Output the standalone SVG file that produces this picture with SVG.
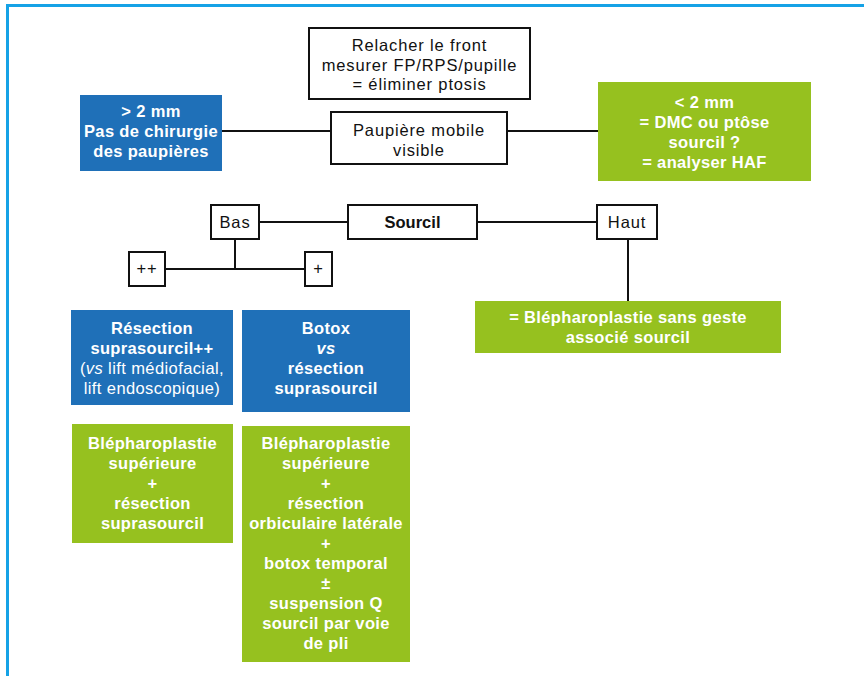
<svg xmlns="http://www.w3.org/2000/svg" width="864" height="676" viewBox="0 0 864 676">
<style>
.frame{fill:none;stroke:#15a2e6;stroke-width:3}
.ob{fill:#fff;stroke:#111;stroke-width:2}
.bl{fill:#1f70b8}
.gr{fill:#96c11f}
.con{stroke:#111;stroke-width:2;fill:none}
text{font-family:"Liberation Sans",Arial,sans-serif;text-anchor:middle}
.r{font-size:16.5px;fill:#111;letter-spacing:0.85px}
.rw{font-size:16.5px;fill:#fff;letter-spacing:0.4px}
.b{font-size:16.5px;font-weight:bold;fill:#fff;letter-spacing:0.35px}
.bk{font-size:16.5px;font-weight:bold;fill:#111}
</style>
<rect width="864" height="676" fill="#fff"/>
<path class="frame" d="M7.5,676 V5.5 H864"/>
<g id="connectors">
<line class="con" x1="222" y1="131" x2="331" y2="131"/>
<line class="con" x1="507" y1="131" x2="598" y2="131"/>
<line class="con" x1="259" y1="222" x2="348" y2="222"/>
<line class="con" x1="477" y1="222" x2="597" y2="222"/>
<line class="con" x1="235" y1="239" x2="235" y2="269"/>
<line class="con" x1="165" y1="269" x2="305" y2="269"/>
<line class="con" x1="628" y1="239" x2="628" y2="301"/>
</g>
<g id="relacher">
<rect class="ob" x="309" y="28" width="221" height="71"/>
<text class="r" x="419.5" y="51">Relacher le front</text>
<text class="r" x="419.5" y="70.5">mesurer FP/RPS/pupille</text>
<text class="r" x="419.5" y="90">= éliminer ptosis</text>
</g>
<g id="paupiere">
<rect class="ob" x="331" y="112" width="176" height="52"/>
<text class="r" x="419" y="136">Paupière mobile</text>
<text class="r" x="419" y="156">visible</text>
</g>
<g id="sup2">
<rect class="bl" x="80" y="95" width="142" height="76"/>
<text class="b" x="151" y="116.5">&gt; 2 mm</text>
<text class="b" x="151" y="136.5">Pas de chirurgie</text>
<text class="b" x="151" y="156.5">des paupières</text>
</g>
<g id="inf2">
<rect class="gr" x="598" y="82" width="213" height="99"/>
<text class="b" x="704.5" y="107.5">&lt; 2 mm</text>
<text class="b" x="704.5" y="127.5">= DMC ou ptôse</text>
<text class="b" x="704.5" y="148">sourcil ?</text>
<text class="b" x="704.5" y="168">= analyser HAF</text>
</g>
<g id="bas">
<rect class="ob" x="211" y="205" width="48" height="34"/>
<text class="r" x="235" y="227.5">Bas</text>
</g>
<g id="sourcil">
<rect class="ob" x="348" y="205" width="129" height="34"/>
<text class="bk" x="412.5" y="227.5">Sourcil</text>
</g>
<g id="haut">
<rect class="ob" x="597" y="205" width="60" height="34"/>
<text class="r" x="627" y="227.5">Haut</text>
</g>
<g id="plusplus">
<rect class="ob" x="129" y="252" width="36" height="34"/>
<text class="r" x="147" y="274">++</text>
</g>
<g id="plus">
<rect class="ob" x="305" y="252" width="27" height="34"/>
<text class="r" x="318.5" y="274">+</text>
</g>
<g id="haut-result">
<rect class="gr" x="475" y="301" width="306" height="52"/>
<text class="b" x="628" y="323">= Blépharoplastie sans geste</text>
<text class="b" x="628" y="343">associé sourcil</text>
</g>
<g id="resection">
<rect class="bl" x="71" y="310" width="162" height="95"/>
<text class="b" x="152" y="333.5">Résection</text>
<text class="b" x="152" y="353.5">suprasourcil++</text>
<text class="rw" x="152" y="374">(<tspan font-style="italic">vs</tspan> lift médiofacial,</text>
<text class="rw" x="152" y="394">lift endoscopique)</text>
</g>
<g id="botox">
<rect class="bl" x="242" y="310" width="168" height="102"/>
<text class="b" x="326" y="333.5">Botox</text>
<text class="b" x="326" y="353.5" font-style="italic">vs</text>
<text class="b" x="326" y="374">résection</text>
<text class="b" x="326" y="394">suprasourcil</text>
</g>
<g id="bleph1">
<rect class="gr" x="72" y="424" width="161" height="119"/>
<text class="b" x="152.5" y="448.5">Blépharoplastie</text>
<text class="b" x="152.5" y="468.5">supérieure</text>
<text class="b" x="152.5" y="489">+</text>
<text class="b" x="152.5" y="508.5">résection</text>
<text class="b" x="152.5" y="528.5">suprasourcil</text>
</g>
<g id="bleph2">
<rect class="gr" x="242" y="426" width="168" height="236"/>
<text class="b" x="326" y="448.5">Blépharoplastie</text>
<text class="b" x="326" y="468.5">supérieure</text>
<text class="b" x="326" y="489">+</text>
<text class="b" x="326" y="508.5">résection</text>
<text class="b" x="326" y="528.5">orbiculaire latérale</text>
<text class="b" x="326" y="549">+</text>
<text class="b" x="326" y="568.5">botox temporal</text>
<text class="b" x="326" y="588.5">±</text>
<text class="b" x="326" y="608.5">suspension Q</text>
<text class="b" x="326" y="628.5">sourcil par voie</text>
<text class="b" x="326" y="648.5">de pli</text>
</g>
</svg>
